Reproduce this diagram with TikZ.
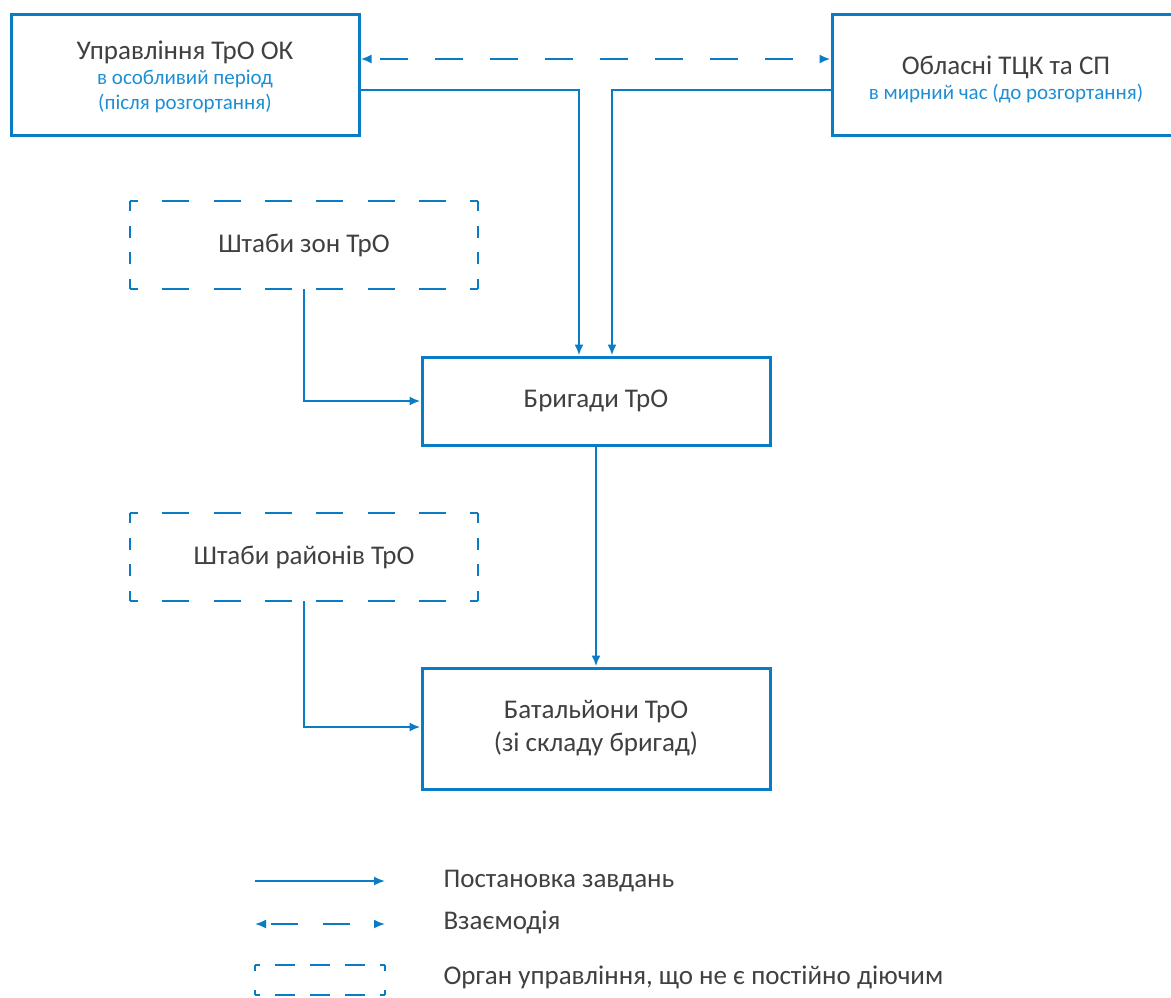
\documentclass[tikz,border=0pt]{standalone}
\usepackage{fontspec}
\setmainfont{Carlito}
\usetikzlibrary{arrows.meta,positioning}
\definecolor{lineblue}{HTML}{0A7BC5}
\definecolor{subblue}{HTML}{1E8FD5}
\definecolor{txtgray}{HTML}{404040}
\newcommand{\subtxt}[1]{{\color{subblue}\fontsize{21}{26}\selectfont #1}}
% four sides of a dashed frame, each side with its own pattern
\newcommand{\dashframe}[3]{%
	\draw[#2] (#1.north west) -- (#1.north east);
	\draw[#2] (#1.south west) -- (#1.south east);
	\draw[#3] (#1.north west) -- (#1.south west);
	\draw[#3] (#1.north east) -- (#1.south east);}
\begin{document}
\begin{tikzpicture}[x=1pt,y=-1pt,
	box/.style={draw=lineblue, line width=3pt, minimum width=348pt, align=center,
		text=txtgray, font=\fontsize{27}{33}\selectfont, inner sep=0pt},
	dashbox/.style={box, draw=none, outer sep=0pt},
	hside/.style={lineblue, line width=2.8pt, dash pattern=on 27pt off 24.3pt, dash phase=19pt},
	vside/.style={lineblue, line width=2.8pt, dash pattern=on 12pt off 14.7pt, dash phase=2pt},
	leghside/.style={lineblue, line width=2pt, dash pattern=on 20pt off 15pt, dash phase=15pt},
	legvside/.style={lineblue, line width=2pt, dash pattern=on 5.5pt off 19pt},
	link/.style={draw=lineblue, line width=2.4pt, -{Latex[length=11pt,width=9pt]}},
	inter/.style={link, {Latex[length=11pt,width=9pt]}-{Latex[length=11pt,width=9pt]},
		dash pattern=on 28pt off 27pt, dash phase=-10pt},
	legtext/.style={anchor=west, text=txtgray, font=\fontsize{27}{33}\selectfont}]
	\useasboundingbox (0,0) rectangle (1171,997);
	% top level
	\node[box, minimum height=121pt] (upr) at (185,74.5) {\raisebox{-3pt}[\height][\depth]{%
		\begin{tabular}{@{}c@{}}Управління ТрО ОК\\[-8pt]
		\subtxt{в особливий період}\\[-8pt]
		\subtxt{(після розгортання)}\end{tabular}}};
	\node[box, minimum height=121pt] (tck) at (1006,74.5) {\raisebox{-6pt}[\height][\depth]{%
		\begin{tabular}{@{}c@{}}Обласні ТЦК та СП\\[-8pt]
		\subtxt{в мирний час (до розгортання)}\end{tabular}}};
	% middle
	\node[dashbox, minimum height=88pt] (zon) at (304,245) {Штаби зон ТрО};
	\dashframe{zon}{hside}{vside}
	\node[box, minimum height=88pt] (brig) at (596,401) {Бригади ТрО};
	\node[dashbox, minimum height=88pt] (rai) at (304,557) {Штаби районів ТрО};
	\dashframe{rai}{hside}{vside}
	\node[box, minimum height=121pt] (bat) at (596,728.5) {Батальйони ТрО\\(зі складу бригад)};
	% connectors
	\draw[inter] (upr.east |- 0,59) -- (tck.west |- 0,59);
	\draw[link] (upr.east |- 0,90) -| ([xshift=-17pt]brig.north);
	\draw[link] (tck.west |- 0,90) -| ([xshift=16pt]brig.north);
	\draw[link] (zon.south) |- (brig.west);
	\draw[link] (brig.south) -- (bat.north);
	\draw[link] (rai.south) |- ([yshift=1.5pt]bat.west);
	% legend
	\coordinate (l1a) at (255,881);
	\coordinate (l1b) at (385,881);
	\coordinate (l2a) at (255,924);
	\coordinate (l2b) at (385,924);
	\draw[link, line width=1.8pt] (l1a) -- (l1b);
	\draw[inter, line width=1.8pt, dash pattern=on 27pt off 25pt, dash phase=-6pt] (l2a) -- (l2b);
	\node[minimum width=130pt, minimum height=30pt, inner sep=0pt, outer sep=0pt] (leg) at (320,980) {};
	\dashframe{leg}{leghside}{legvside}
	\node[legtext] (t1) at (440,881) {Постановка завдань};
	\node[legtext] (t2) at (440,922) {Взаємодія};
	\node[legtext] (t3) at (440,977) {Орган управління, що не є постійно діючим};
\end{tikzpicture}
\end{document}
